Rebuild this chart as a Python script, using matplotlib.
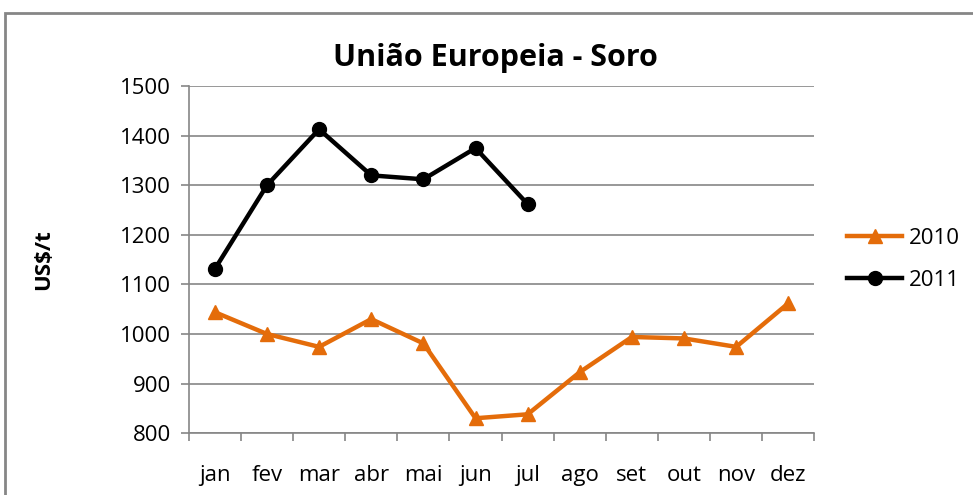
import matplotlib
matplotlib.use("Agg")
import matplotlib.pyplot as plt
from matplotlib.patches import Rectangle

plt.rcParams['font.family'] = ['Open Sans', 'DejaVu Sans']

months = ["jan", "fev", "mar", "abr", "mai", "jun", "jul", "ago", "set", "out", "nov", "dez"]
values_2010 = [1044, 1000, 974, 1030, 981, 830, 838, 923, 994, 991, 974, 1062]
values_2011 = [1131, 1300, 1413, 1320, 1312, 1375, 1262]
y_ticks = [800, 900, 1000, 1100, 1200, 1300, 1400, 1500]

fig = plt.figure(figsize=(9.73, 4.95), dpi=100)
ax = fig.add_axes([0.194, 0.125, 0.643, 0.701])

x10 = list(range(len(values_2010)))
x11 = list(range(len(values_2011)))
ax.plot(x10, values_2010, color="#E46C0A", lw=3.2, marker="^", ms=10, label="2010", zorder=3)
ax.plot(x11, values_2011, color="#000000", lw=3.2, marker="o", ms=10, label="2011", zorder=3)

ax.set_xlim(-0.5, len(months) - 0.5)
ax.set_ylim(800, 1500)
ax.set_yticks(y_ticks)
ax.set_yticklabels([str(v) for v in y_ticks], fontsize=16)
ax.set_xticks(range(len(months)))
ax.set_xticklabels(months, fontsize=16)
ax.tick_params(axis='x', length=0, pad=23)
ax.set_xticks([i - 0.5 for i in range(len(months) + 1)], minor=True)
ax.tick_params(axis='x', which='minor', length=6, color="#868686", width=1.2)
ax.tick_params(axis='y', length=6, color="#868686", width=1.2, pad=7)

ax.grid(axis='y', color="#868686", lw=1.2)
ax.set_axisbelow(True)
for s in ["top", "right"]:
    ax.spines[s].set_visible(False)
for s in ["left", "bottom"]:
    ax.spines[s].set_color("#868686")
    ax.spines[s].set_linewidth(1.2)

ax.set_ylabel("US$/t", fontsize=16, fontweight="bold", labelpad=47)
fig.text(0.509, 0.882, "União Europeia - Soro", fontsize=22, fontweight="bold",
         ha="center", va="center")

leg = ax.legend(loc="center left", bbox_to_anchor=(1.02, 0.5), frameon=False,
                fontsize=16, handlelength=2.5, labelspacing=0.95, handletextpad=0.3)

fig.patches.append(Rectangle((5 / 973, -0.5), 2.0, 1 - 13 / 495 + 0.5,
                             transform=fig.transFigure, fill=False,
                             edgecolor="#868686", lw=2))

fig.savefig("out.png", dpi=100)
